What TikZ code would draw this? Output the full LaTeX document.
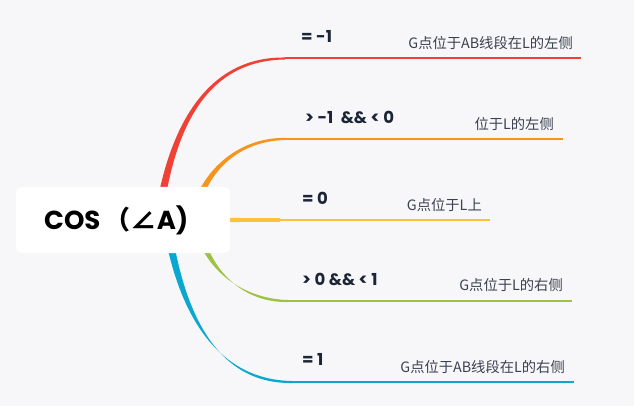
\documentclass[tikz,border=0pt]{standalone}
\usepackage{fontspec}
\setmainfont{Poppins}
\newfontfamily\cjk{Noto Sans CJK SC}
\usetikzlibrary{calc}
\definecolor{bg}{HTML}{F7F7F9}
\definecolor{cred}{HTML}{EF4136}
\definecolor{corange}{HTML}{F7941D}
\definecolor{cyellow}{HTML}{FBC33A}
\definecolor{cgreen}{HTML}{A0C244}
\definecolor{cblue}{HTML}{0AA8D0}
\definecolor{labtxt}{HTML}{1C2536}
\definecolor{destxt}{HTML}{3A4150}
\tikzset{
  lab/.style={anchor=west, inner sep=0pt, text=labtxt, font=\fontsize{16.5}{19}\selectfont\bfseries},
  des/.style={anchor=east, inner sep=0pt, text=destxt, font=\cjk\fontsize{14.3}{17}\selectfont},
  hline/.style={line width=2pt},
  centerbox/.style={fill=white, rounded corners=6pt, minimum width=214pt, minimum height=66pt, inner sep=0pt}
}
\begin{document}
\begin{tikzpicture}[x=1pt,y=-1pt]
\fill[bg] (0,0) rectangle (634,406);
\useasboundingbox (0,0) rectangle (634,406);
% roots and branch points
\coordinate (r1) at (158,222); \coordinate (a1) at (170,130); \coordinate (b1) at (205,58.5); \coordinate (s1) at (285,58.5); \coordinate (e1) at (581,58.5);
\coordinate (r2) at (192,225); \coordinate (a2) at (200,170); \coordinate (b2) at (240,139); \coordinate (s2) at (285,139); \coordinate (e2) at (563,139);
\coordinate (r3) at (200,220); \coordinate (s3) at (280,220); \coordinate (e3) at (490,220);
\coordinate (r4) at (195,215); \coordinate (a4) at (203,270); \coordinate (b4) at (243,301); \coordinate (s4) at (288,301); \coordinate (e4) at (572,301);
\coordinate (r5) at (166,218); \coordinate (a5) at (179,310); \coordinate (b5) at (215,382); \coordinate (s5) at (292,382); \coordinate (e5) at (574,382);
% tapered curves
\foreach \i/\col in {1/cred,2/corange,4/cgreen,5/cblue}{
  \fill[\col] ($(r\i)+(-4,0)$) .. controls ($(a\i)+(-3.3,0)$) and ($(b\i)+(0,-2.1)$) .. ($(s\i)+(0,-1)$)
     -- ($(s\i)+(0,1)$) .. controls ($(b\i)+(0,2.1)$) and ($(a\i)+(3.3,0)$) .. ($(r\i)+(4,0)$) -- cycle;
  \draw[hline,\col] (s\i) -- (e\i);
}
\fill[cyellow] ($(r3)+(0,-2.2)$) -- ($(s3)+(0,-1.8)$) -- ($(s3)+(0,1.8)$) -- ($(r3)+(0,2.2)$) -- cycle;
\draw[hline,cyellow] (s3) -- (e3);
% central node
\node[centerbox] (c) at (123,220) {};
\node[inner sep=0pt, font=\fontsize{26}{30}\selectfont\bfseries, anchor=west] (ct) at (44,220) {COS\,{\cjk\bfseries（}{\cjk ∠}A)};
% labels
\node[lab] (l1) at (301,36) {= -1};
\node[lab] (l2) at (305,117) {> -1\hspace{0.45em}\&\& < 0};
\node[lab] (l3) at (302,198) {= 0};
\node[lab] (l4) at (302,279) {> 0 \&\& < 1};
\node[lab] (l5) at (302,359) {= 1};
% descriptions
\node[des] (d1) at ($(e1)+(-8,-15.5)$) {G点位于AB线段在L的左侧};
\node[des] (d2) at ($(e2)+(-9,-15)$) {位于L的左侧};
\node[des] (d3) at ($(e3)+(-8,-15)$) {G点位于L上};
\node[des] (d4) at ($(e4)+(-9,-15.5)$) {G点位于L的右侧};
\node[des] (d5) at ($(e5)+(-9,-15)$) {G点位于AB线段在L的右侧};
\end{tikzpicture}
\end{document}
